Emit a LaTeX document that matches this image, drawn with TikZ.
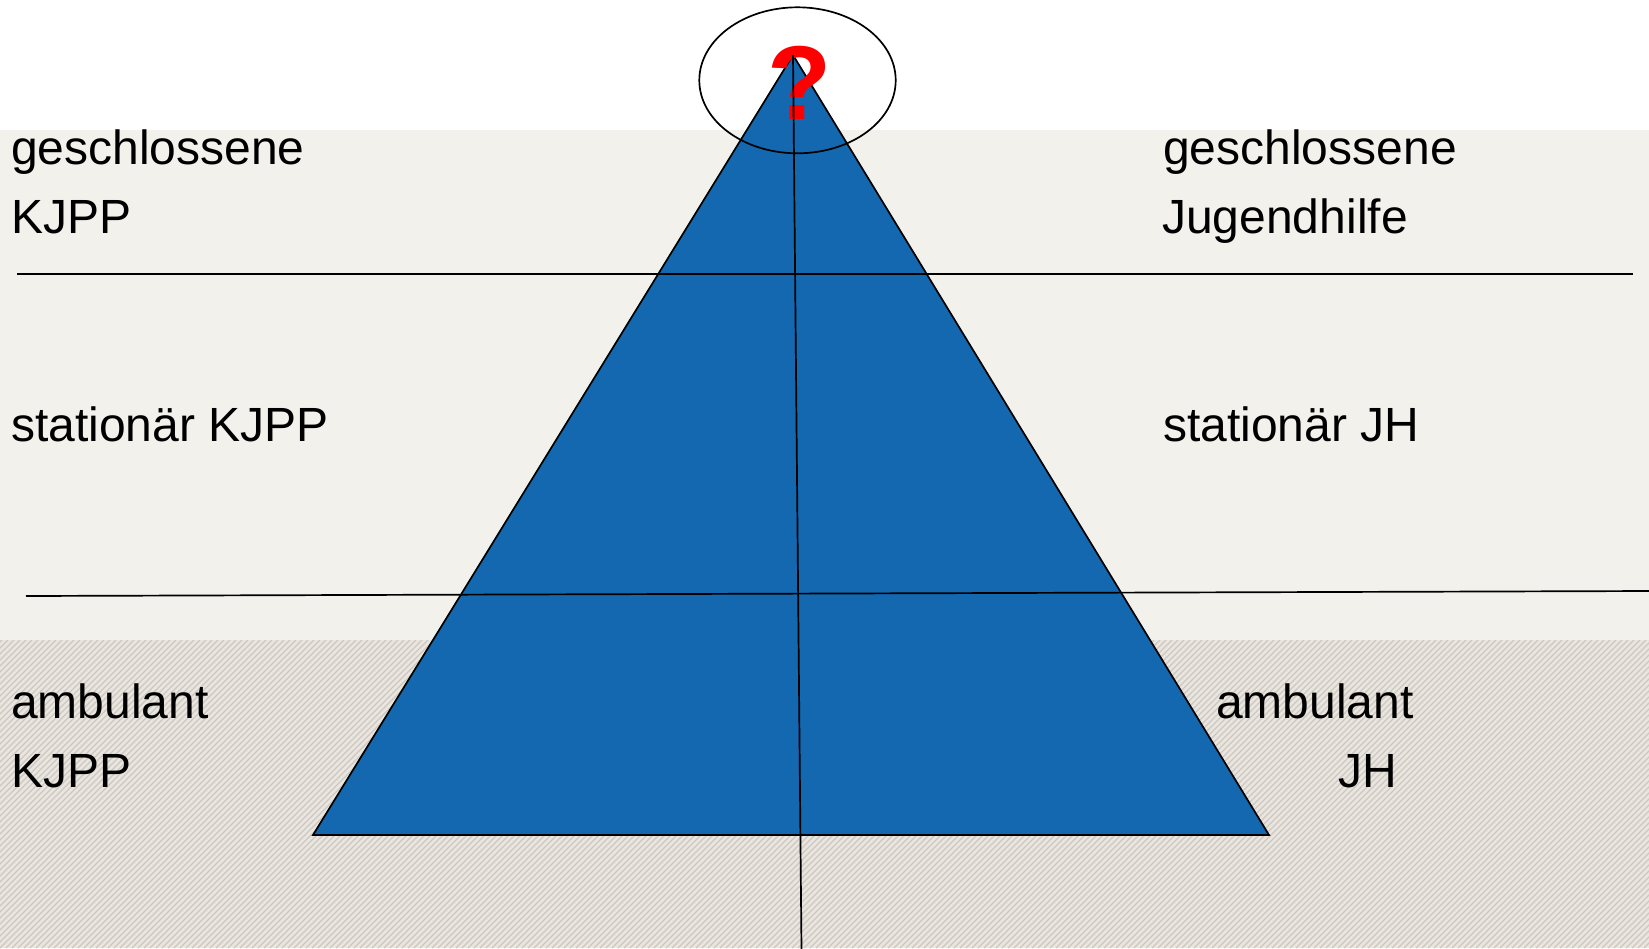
\documentclass[tikz,border=0pt]{standalone}
\usepackage{fontspec}
\setmainfont{Liberation Sans}
\definecolor{band}{HTML}{F2F1EC}
\definecolor{hatchbg}{HTML}{E9E5DF}
\definecolor{hatchfg}{HTML}{CDC7C1}
\definecolor{pyr}{HTML}{1468B0}
\begin{document}
\begin{tikzpicture}[x=1bp,y=-1bp,
  lbl/.style={anchor=base west,inner sep=0pt,font=\fontsize{48bp}{58bp}\selectfont},
  rule/.style={draw=black,line width=1.7bp},
  hatch/.style={draw=hatchfg,line width=1.3bp},
  qmark/.style={anchor=base,inner sep=0pt,text=red,font=\fontsize{105bp}{105bp}\selectfont\bfseries}]
\useasboundingbox (0,0) rectangle (1649,948);
% background bands
\fill[white] (0,0) rectangle (1649,948);
\fill[band] (0,130) rectangle (1649,640);
\fill[hatchbg] (0,640) rectangle (1649,948);
\begin{scope}
  \clip (0,640) rectangle (1649,948);
  \foreach \i in {-55,...,280} \draw[hatch] (\i*6,948) -- ++(308,-308);
\end{scope}
% pyramid
\coordinate (apex) at (793,55);
\coordinate (bl) at (313,835);
\coordinate (br) at (1269,835);
\fill[pyr] (apex) -- (bl) -- (br) -- cycle;
\draw[rule,line join=miter] (apex) -- (bl) -- (br) -- cycle;
% question mark
\node[qmark] (q) at (799.5,119) {?};
% horizontal rules
\coordinate (u1) at (17,274.3);
\coordinate (u2) at (1633,274.3);
\coordinate (l1) at (26,596);
\coordinate (l2) at (1652,591);
\draw[rule] (u1) -- (u2);
\draw[rule] (l1) -- (l2);
% vertical axis
\coordinate (bot) at (801.5,950);
\draw[rule] (apex) -- (bot);
% ellipse round the top
\draw[rule] (797.5,80.3) ellipse [x radius=98.2bp, y radius=73bp];
% labels left
\node[lbl] (gl1) at (11,164) {geschlossene};
\node[lbl] (gl2) at (11,233) {KJPP};
\node[lbl] (sl) at (11,441) {stationär KJPP};
\node[lbl] (al1) at (11,718) {ambulant};
\node[lbl] (al2) at (11,787) {KJPP};
% labels right
\node[lbl] (gr1) at (1163,164) {geschlossene};
\node[lbl] (gr2) at (1162,233) {Jugendhilfe};
\node[lbl] (sr) at (1163,441) {stationär JH};
\node[lbl] (ar1) at (1216,718) {ambulant};
\node[lbl] (ar2) at (1338,787) {JH};
\end{tikzpicture}
\end{document}
